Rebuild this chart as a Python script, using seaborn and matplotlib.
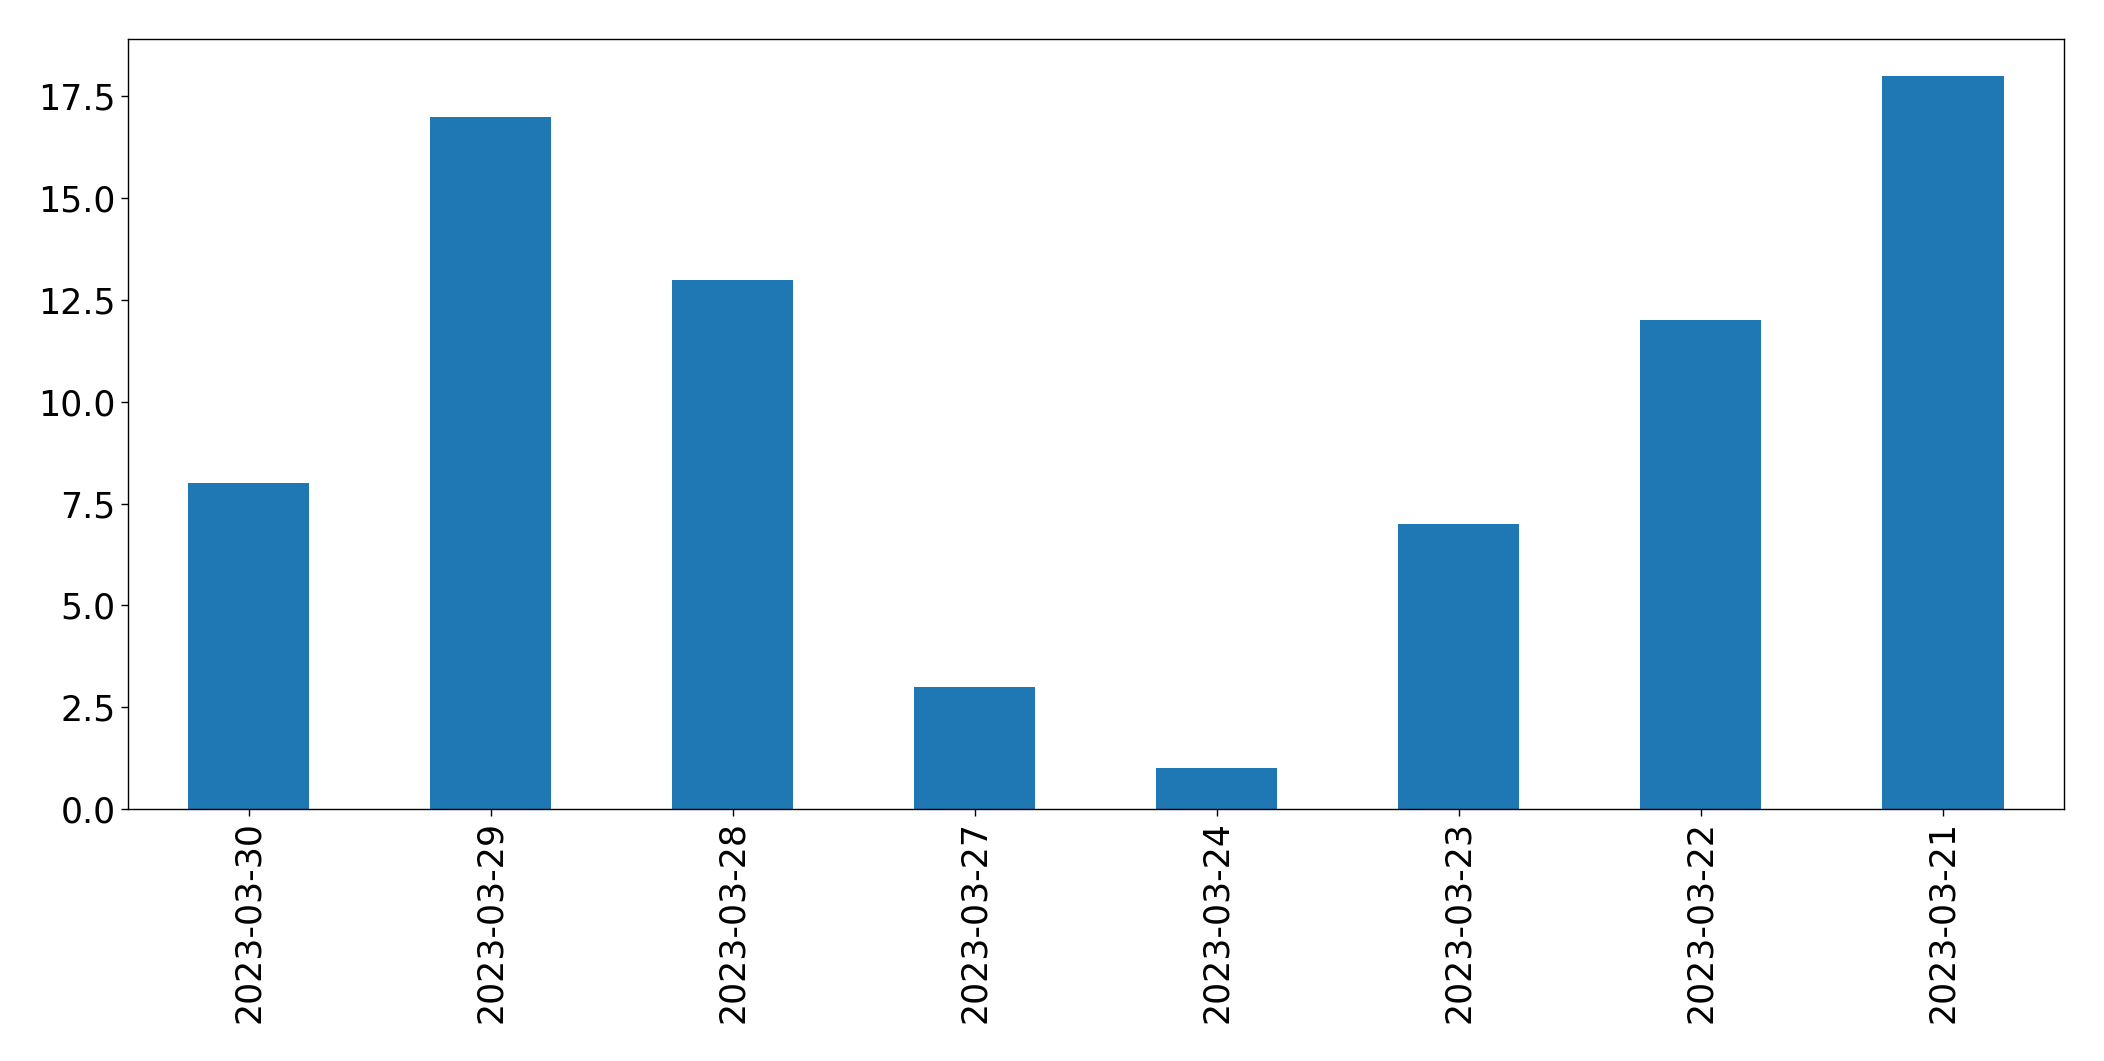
import matplotlib
matplotlib.use("Agg")
import matplotlib.pyplot as plt
import seaborn as sns
import pandas as pd

dates = ["2023-03-30", "2023-03-29", "2023-03-28", "2023-03-27",
         "2023-03-24", "2023-03-23", "2023-03-22", "2023-03-21"]
counts = [8, 17, 13, 3, 1, 7, 12, 18]

df = pd.DataFrame({"date": dates, "count": counts})

sns.set_style("ticks")
plt.rcParams['font.family'] = ['DejaVu Sans']

fig, ax = plt.subplots(figsize=(21.04, 10.61), dpi=100)
fig.subplots_adjust(left=0.0606, right=0.981, top=0.963, bottom=0.2375)

sns.barplot(data=df, x="date", y="count", order=dates, color="#1f77b4",
            saturation=1, width=0.5, linewidth=0, ax=ax)

ax.set_xlim(-0.5, len(dates) - 0.5)
ax.set_ylim(0, 18.9)
ax.set_yticks([0, 2.5, 5, 7.5, 10, 12.5, 15, 17.5])
ax.set_yticklabels(["0.0", "2.5", "5.0", "7.5", "10.0", "12.5", "15.0", "17.5"])
ax.set_xlabel("")
ax.set_ylabel("")
ax.tick_params(axis="both", labelsize=25, length=5, width=1, colors="black")
for lbl in ax.get_xticklabels():
    lbl.set_rotation(90)
for s in ax.spines.values():
    s.set_visible(True)
    s.set_linewidth(1)
    s.set_color("black")

fig.savefig("out.png", dpi=100)
